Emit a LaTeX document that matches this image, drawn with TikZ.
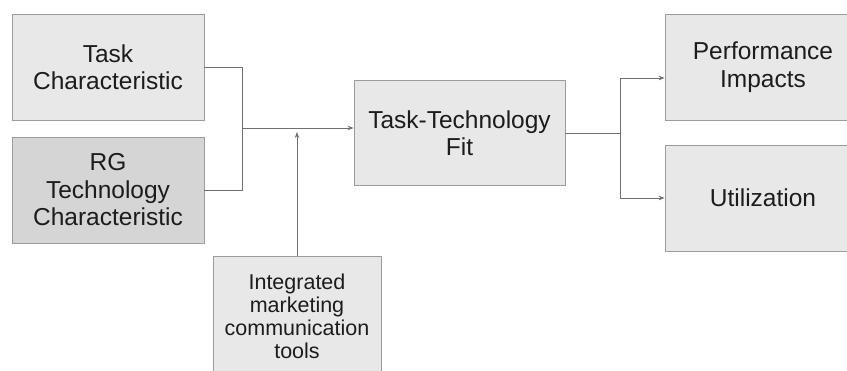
\documentclass[tikz,border=0pt]{standalone}
\usepackage{fontspec}
\setmainfont{Liberation Sans}
\usetikzlibrary{arrows.meta,calc}
\definecolor{boxfill}{HTML}{E8E8E8}
\definecolor{boxdark}{HTML}{D5D5D5}
\definecolor{boxline}{HTML}{9C9C9C}
\definecolor{conn}{HTML}{707070}
\definecolor{txt}{HTML}{1C1C1C}
\begin{document}
\begin{tikzpicture}[x=1pt,y=-1pt,
  box/.style={draw=boxline,line width=0.9pt,fill=boxfill,inner sep=0pt,align=center,text=txt,
    font=\fontsize{24.5}{27.5}\selectfont},
  smallbox/.style={box,font=\fontsize{21.5}{23}\selectfont},
  link/.style={draw=conn,line width=0.9pt},
  arr/.style={link,-{Stealth[length=6pt,width=4.5pt]}}]
\useasboundingbox (0,0) rectangle (847,370);
\clip (0,0) rectangle (847,370);
\node[box,minimum width=192pt,minimum height=106pt] (task) at (108,67) {Task\\Characteristic};
\node[box,fill=boxdark,minimum width=192pt,minimum height=106pt] (rg) at (108,190) {RG\\Technology\\Characteristic};
\node[box,minimum width=211pt,minimum height=105pt] (ttf) at (459.5,133) {Task-Technology\\Fit};
\node[box,minimum width=196pt,minimum height=106pt] (perf) at (763,67) {Performance\\Impacts};
\node[box,minimum width=196pt,minimum height=106pt] (util) at (763,198) {Utilization};
\node[smallbox,minimum width=168pt,minimum height=120pt] (imc) at (297,316) {Integrated\\marketing\\communication\\tools};
\coordinate (j1) at (242,128);
\coordinate (j2) at (620,133);
\coordinate (pin) at (665,78);
\draw[link] (task.east) -| (j1);
\draw[link] (rg.east) -| (j1);
\draw[arr] (j1) -- (ttf.west |- j1);
\draw[arr,shorten >=4pt] (imc.north) -- (imc.north |- j1);
\draw[link] (ttf.east |- j2) -- (j2);
\draw[arr] (j2) |- (perf.west |- pin);
\draw[arr] (j2) |- (util.west);
\end{tikzpicture}
\end{document}
